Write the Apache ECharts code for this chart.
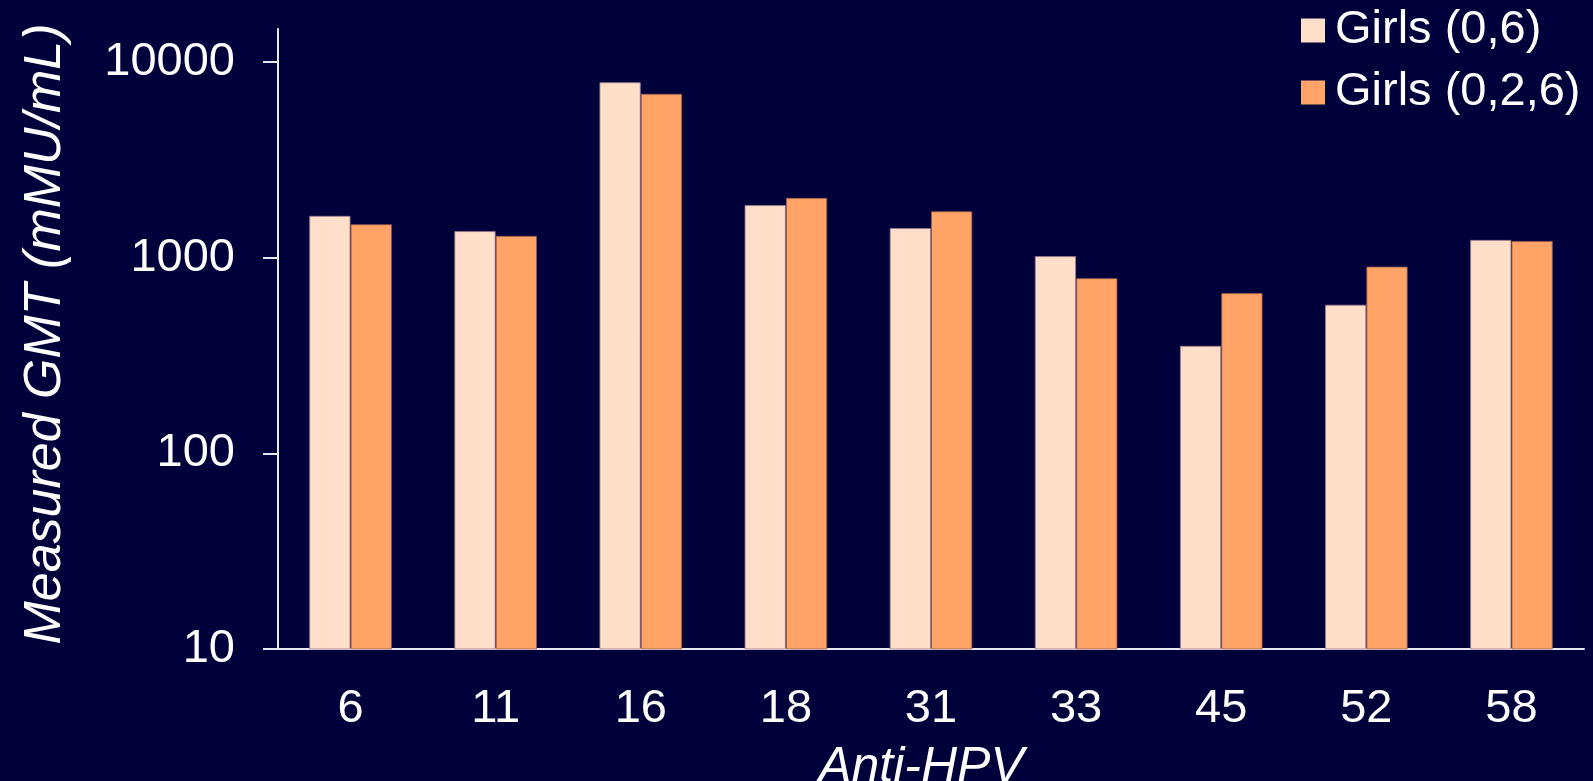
<!DOCTYPE html>
<html>
<head>
    <meta charset="utf-8">
    <title>Anti-HPV GMT</title>
    <script src="https://cdn.jsdelivr.net/npm/echarts@6/dist/echarts.min.js"></script>
    <style>
        html, body { margin: 0; padding: 0; background: #00003a; }
        #charts { width: 1593px; height: 781px; }
    </style>
</head>
<body>
<div id="charts"></div>
<script>
    // data
    var types = ['6', '11', '16', '18', '31', '33', '45', '52', '58'];
    var girls06 = [1640, 1370, 7900, 1860, 1420, 1020, 355, 576, 1235];
    var girls026 = [1485, 1295, 6900, 2025, 1730, 787, 660, 902, 1220];
    var yTicks = [10, 100, 1000, 10000];

    var font = '"Liberation Sans", Arial, sans-serif';
    var myChart = echarts.init(document.getElementById('charts'));

    var option = {
        backgroundColor: '#00003a',
        animation: false,
        textStyle: { fontFamily: font, color: '#fff' },
        legend: {
            orient: 'vertical',
            left: 1301,
            top: 7,
            padding: 0,
            itemWidth: 24,
            itemHeight: 24,
            itemGap: 15,
            icon: 'rect',
            itemStyle: { borderWidth: 0 },
            textStyle: { color: '#fff', fontSize: 47, fontFamily: font, padding: [0, 0, 0, 5] },
            data: ['Girls (0,6)', 'Girls (0,2,6)']
        },
        grid: {
            left: 278,
            right: 9,
            top: 29,
            bottom: 132,
            outerBoundsMode: 'none'
        },
        xAxis: {
            type: 'category',
            data: types,
            name: 'Anti-HPV',
            nameLocation: 'middle',
            nameGap: 94,
            nameTextStyle: { color: '#fff', fontSize: 50, fontStyle: 'italic', fontFamily: font, padding: [0, 20, 0, 0] },
            axisLine: { lineStyle: { color: '#e8e8f0', width: 2 } },
            axisTick: { length: 15, lineStyle: { color: '#e8e8f0', width: 2 } },
            axisLabel: { color: '#fff', fontSize: 47, fontFamily: font, margin: 37 }
        },
        yAxis: {
            type: 'log',
            logBase: 10,
            min: 10,
            max: 14780,
            name: 'Measured GMT (mMU/mL)',
            nameLocation: 'middle',
            nameGap: 206,
            nameTextStyle: { color: '#fff', fontSize: 52, fontStyle: 'italic', fontFamily: font, padding: [0, 0, 0, 10] },
            splitLine: { show: false },
            axisLine: { show: true, lineStyle: { color: '#e8e8f0', width: 2 } },
            axisTick: { show: true, length: 15, customValues: yTicks, lineStyle: { color: '#e8e8f0', width: 2 } },
            axisLabel: {
                color: '#fff', fontSize: 47, fontFamily: font, margin: 43, customValues: yTicks,
                formatter: function (v) { return String(Math.round(v)); }
            }
        },
        series: [
            {
                name: 'Girls (0,6)',
                type: 'bar',
                barGap: 0,
                barCategoryGap: '43%',
                itemStyle: { color: '#ffdfca', borderColor: 'rgba(150,120,140,0.8)', borderWidth: 1 },
                data: girls06
            },
            {
                name: 'Girls (0,2,6)',
                type: 'bar',
                barGap: 0,
                barCategoryGap: '43%',
                itemStyle: { color: '#ffa366', borderColor: 'rgba(150,90,80,0.8)', borderWidth: 1 },
                data: girls026
            }
        ]
    };
    myChart.setOption(option);
</script>
</body>
</html>
